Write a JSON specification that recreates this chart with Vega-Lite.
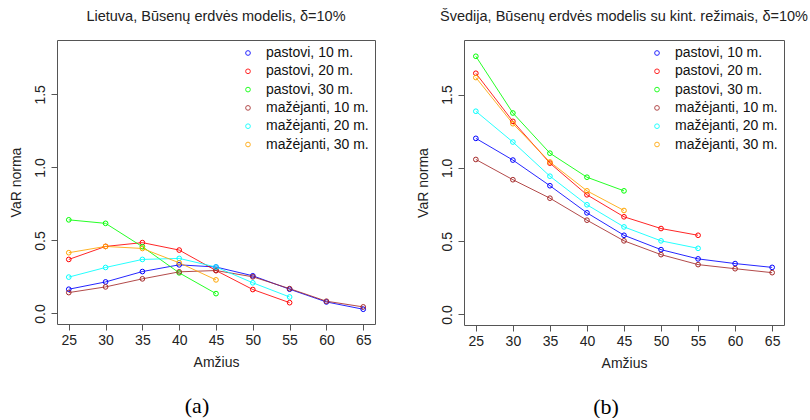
{
  "$schema": "https://vega.github.io/schema/vega-lite/v6.json",
  "background": "white",
  "padding": {"left": 8, "top": 8, "right": 0, "bottom": 0},
  "config": {
    "font": "Liberation Sans",
    "view": {"stroke": "#555555", "strokeWidth": 1},
    "axis": {"grid": false, "domain": false, "tickColor": "#555555", "tickSize": 6, "labelFont": "Liberation Sans", "labelFontSize": 14, "labelColor": "#222222", "titleFont": "Liberation Sans", "titleFontSize": 14, "titleFontWeight": "normal", "titleColor": "#222222"},
    "title": {"font": "Liberation Sans", "fontSize": 14.5, "fontWeight": "normal", "color": "#222222"},
    "legend": {"labelFont": "Liberation Sans", "labelFontSize": 14, "labelColor": "#111111", "symbolType": "circle", "symbolSize": 22, "symbolStrokeWidth": 1, "symbolFillColor": "transparent", "rowPadding": 4.3, "labelOffset": 11, "offset": 6, "padding": 0},
    "concat": {"spacing": 39}
  },
  "datasets": {
    "a": [
      {"series": "pastovi, 10 m.", "age": 25, "v": 0.166}, {"series": "pastovi, 10 m.", "age": 30, "v": 0.216}, {"series": "pastovi, 10 m.", "age": 35, "v": 0.287}, {"series": "pastovi, 10 m.", "age": 40, "v": 0.333}, {"series": "pastovi, 10 m.", "age": 45, "v": 0.318}, {"series": "pastovi, 10 m.", "age": 50, "v": 0.258}, {"series": "pastovi, 10 m.", "age": 55, "v": 0.166}, {"series": "pastovi, 10 m.", "age": 60, "v": 0.079}, {"series": "pastovi, 10 m.", "age": 65, "v": 0.029},
      {"series": "pastovi, 20 m.", "age": 25, "v": 0.370}, {"series": "pastovi, 20 m.", "age": 30, "v": 0.459}, {"series": "pastovi, 20 m.", "age": 35, "v": 0.485}, {"series": "pastovi, 20 m.", "age": 40, "v": 0.434}, {"series": "pastovi, 20 m.", "age": 45, "v": 0.294}, {"series": "pastovi, 20 m.", "age": 50, "v": 0.164}, {"series": "pastovi, 20 m.", "age": 55, "v": 0.074},
      {"series": "pastovi, 30 m.", "age": 25, "v": 0.641}, {"series": "pastovi, 30 m.", "age": 30, "v": 0.617}, {"series": "pastovi, 30 m.", "age": 35, "v": 0.457}, {"series": "pastovi, 30 m.", "age": 40, "v": 0.278}, {"series": "pastovi, 30 m.", "age": 45, "v": 0.136},
      {"series": "mažėjanti, 10 m.", "age": 25, "v": 0.143}, {"series": "mažėjanti, 10 m.", "age": 30, "v": 0.182}, {"series": "mažėjanti, 10 m.", "age": 35, "v": 0.237}, {"series": "mažėjanti, 10 m.", "age": 40, "v": 0.285}, {"series": "mažėjanti, 10 m.", "age": 45, "v": 0.294}, {"series": "mažėjanti, 10 m.", "age": 50, "v": 0.251}, {"series": "mažėjanti, 10 m.", "age": 55, "v": 0.170}, {"series": "mažėjanti, 10 m.", "age": 60, "v": 0.084}, {"series": "mažėjanti, 10 m.", "age": 65, "v": 0.045},
      {"series": "mažėjanti, 20 m.", "age": 25, "v": 0.249}, {"series": "mažėjanti, 20 m.", "age": 30, "v": 0.315}, {"series": "mažėjanti, 20 m.", "age": 35, "v": 0.370}, {"series": "mažėjanti, 20 m.", "age": 40, "v": 0.377}, {"series": "mažėjanti, 20 m.", "age": 45, "v": 0.318}, {"series": "mažėjanti, 20 m.", "age": 50, "v": 0.210}, {"series": "mažėjanti, 20 m.", "age": 55, "v": 0.113},
      {"series": "mažėjanti, 30 m.", "age": 25, "v": 0.416}, {"series": "mažėjanti, 30 m.", "age": 30, "v": 0.459}, {"series": "mažėjanti, 30 m.", "age": 35, "v": 0.445}, {"series": "mažėjanti, 30 m.", "age": 40, "v": 0.347}, {"series": "mažėjanti, 30 m.", "age": 45, "v": 0.230}
    ],
    "b": [
      {"series": "pastovi, 10 m.", "age": 25, "v": 1.201}, {"series": "pastovi, 10 m.", "age": 30, "v": 1.053}, {"series": "pastovi, 10 m.", "age": 35, "v": 0.878}, {"series": "pastovi, 10 m.", "age": 40, "v": 0.693}, {"series": "pastovi, 10 m.", "age": 45, "v": 0.540}, {"series": "pastovi, 10 m.", "age": 50, "v": 0.442}, {"series": "pastovi, 10 m.", "age": 55, "v": 0.379}, {"series": "pastovi, 10 m.", "age": 60, "v": 0.347}, {"series": "pastovi, 10 m.", "age": 65, "v": 0.321},
      {"series": "pastovi, 20 m.", "age": 25, "v": 1.645}, {"series": "pastovi, 20 m.", "age": 30, "v": 1.317}, {"series": "pastovi, 20 m.", "age": 35, "v": 1.032}, {"series": "pastovi, 20 m.", "age": 40, "v": 0.816}, {"series": "pastovi, 20 m.", "age": 45, "v": 0.666}, {"series": "pastovi, 20 m.", "age": 50, "v": 0.586}, {"series": "pastovi, 20 m.", "age": 55, "v": 0.540},
      {"series": "pastovi, 30 m.", "age": 25, "v": 1.761}, {"series": "pastovi, 30 m.", "age": 30, "v": 1.374}, {"series": "pastovi, 30 m.", "age": 35, "v": 1.100}, {"series": "pastovi, 30 m.", "age": 40, "v": 0.936}, {"series": "pastovi, 30 m.", "age": 45, "v": 0.843},
      {"series": "mažėjanti, 10 m.", "age": 25, "v": 1.057}, {"series": "mažėjanti, 10 m.", "age": 30, "v": 0.919}, {"series": "mažėjanti, 10 m.", "age": 35, "v": 0.793}, {"series": "mažėjanti, 10 m.", "age": 40, "v": 0.643}, {"series": "mažėjanti, 10 m.", "age": 45, "v": 0.502}, {"series": "mažėjanti, 10 m.", "age": 50, "v": 0.408}, {"series": "mažėjanti, 10 m.", "age": 55, "v": 0.340}, {"series": "mažėjanti, 10 m.", "age": 60, "v": 0.312}, {"series": "mažėjanti, 10 m.", "age": 65, "v": 0.285},
      {"series": "mažėjanti, 20 m.", "age": 25, "v": 1.386}, {"series": "mažėjanti, 20 m.", "age": 30, "v": 1.176}, {"series": "mažėjanti, 20 m.", "age": 35, "v": 0.943}, {"series": "mažėjanti, 20 m.", "age": 40, "v": 0.748}, {"series": "mažėjanti, 20 m.", "age": 45, "v": 0.597}, {"series": "mažėjanti, 20 m.", "age": 50, "v": 0.502}, {"series": "mažėjanti, 20 m.", "age": 55, "v": 0.451},
      {"series": "mažėjanti, 30 m.", "age": 25, "v": 1.616}, {"series": "mažėjanti, 30 m.", "age": 30, "v": 1.301}, {"series": "mažėjanti, 30 m.", "age": 35, "v": 1.040}, {"series": "mažėjanti, 30 m.", "age": 40, "v": 0.843}, {"series": "mažėjanti, 30 m.", "age": 45, "v": 0.709}
    ]
  },
  "hconcat": [
    {
      "title": {"text": "(a)", "orient": "bottom", "font": "Liberation Serif", "fontSize": 22, "color": "#000000", "frame": "bounds", "anchor": "middle", "offset": 26, "dx": 5},
      "resolve": {"scale": {"color": "independent"}, "legend": {"color": "independent"}},
      "vconcat": [
        {
          "title": {"text": "Lietuva, Būsenų erdvės modelis, δ=10%", "offset": 16},
          "width": 318,
          "height": 284,
          "data": {"name": "a"},
          "encoding": {
            "x": {"field": "age", "type": "quantitative", "scale": {"domain": [23.4, 66.6], "nice": false, "zero": false}, "axis": {"values": [25, 30, 35, 40, 45, 50, 55, 60, 65], "title": "Amžius", "labelPadding": 3, "titlePadding": 8}},
            "y": {"field": "v", "type": "quantitative", "scale": {"domain": [-0.072, 1.872], "nice": false, "zero": false}, "axis": {"values": [0, 0.5, 1, 1.5], "format": ".1f", "labelAngle": -90, "labelAlign": "center", "labelBaseline": "bottom", "labelPadding": 4, "title": "VaR norma", "titlePadding": 10}},
            "color": {"field": "series", "type": "nominal", "scale": {"domain": ["pastovi, 10 m.", "pastovi, 20 m.", "pastovi, 30 m.", "mažėjanti, 10 m.", "mažėjanti, 20 m.", "mažėjanti, 30 m."], "range": ["#0000FF", "#FF0000", "#00FF00", "#A52A2A", "#00FFFF", "#FFA500"]}, "legend": {"title": null, "orient": "top-right", "symbolType": "circle"}}
          },
          "layer": [
            {"mark": {"type": "line", "strokeWidth": 1, "opacity": 0.85}},
            {"mark": {"type": "point", "shape": "circle", "filled": false, "size": 22, "strokeWidth": 1, "opacity": 1}}
          ]
        }
      ]
    },
    {
      "title": {"text": "(b)", "orient": "bottom", "font": "Liberation Serif", "fontSize": 22, "color": "#000000", "frame": "bounds", "anchor": "middle", "offset": 26, "dx": -6},
      "resolve": {"scale": {"color": "independent"}, "legend": {"color": "independent"}},
      "vconcat": [
        {
          "title": {"text": "Švedija, Būsenų erdvės modelis su kint. režimais, δ=10%", "offset": 16},
          "width": 320,
          "height": 285,
          "data": {"name": "b"},
          "encoding": {
            "x": {"field": "age", "type": "quantitative", "scale": {"domain": [23.4, 66.6], "nice": false, "zero": false}, "axis": {"values": [25, 30, 35, 40, 45, 50, 55, 60, 65], "title": "Amžius", "labelPadding": 3, "titlePadding": 8}},
            "y": {"field": "v", "type": "quantitative", "scale": {"domain": [-0.072, 1.872], "nice": false, "zero": false}, "axis": {"values": [0, 0.5, 1, 1.5], "format": ".1f", "labelAngle": -90, "labelAlign": "center", "labelBaseline": "bottom", "labelPadding": 4, "title": "VaR norma", "titlePadding": 10}},
            "color": {"field": "series", "type": "nominal", "scale": {"domain": ["pastovi, 10 m.", "pastovi, 20 m.", "pastovi, 30 m.", "mažėjanti, 10 m.", "mažėjanti, 20 m.", "mažėjanti, 30 m."], "range": ["#0000FF", "#FF0000", "#00FF00", "#A52A2A", "#00FFFF", "#FFA500"]}, "legend": {"title": null, "orient": "top-right", "symbolType": "circle"}}
          },
          "layer": [
            {"mark": {"type": "line", "strokeWidth": 1, "opacity": 0.85}},
            {"mark": {"type": "point", "shape": "circle", "filled": false, "size": 22, "strokeWidth": 1, "opacity": 1}}
          ]
        }
      ]
    }
  ],
  "resolve": {"scale": {"color": "independent"}, "legend": {"color": "independent"}}
}
